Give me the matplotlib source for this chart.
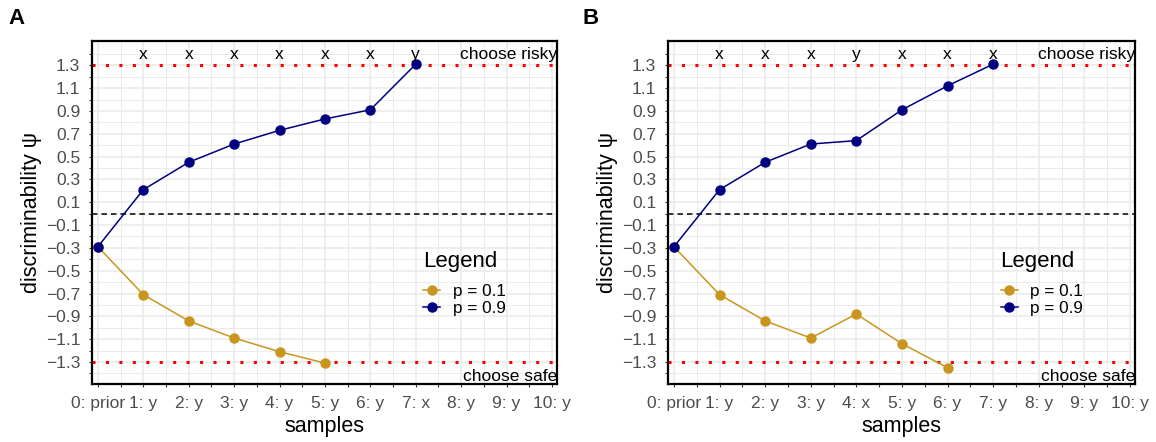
import matplotlib
matplotlib.use("Agg")
import matplotlib.pyplot as plt
import numpy as np
from matplotlib.ticker import FixedLocator

plt.rcParams['font.family'] = ['Liberation Sans', 'DejaVu Sans']

# ---- data ----
labels_A = ["0: prior", "1: y", "2: y", "3: y", "4: y", "5: y", "6: y", "7: x", "8: y", "9: y", "10: y"]
labels_B = ["0: prior", "1: y", "2: y", "3: y", "4: x", "5: y", "6: y", "7: y", "8: y", "9: y", "10: y"]
top_A = ["x", "x", "x", "x", "x", "x", "y"]
top_B = ["x", "x", "x", "y", "x", "x", "x"]

p09_A = [-0.29, 0.21, 0.45, 0.61, 0.73, 0.83, 0.91, 1.31]
p01_A = [-0.29, -0.71, -0.94, -1.09, -1.21, -1.31]
p09_B = [-0.29, 0.21, 0.45, 0.61, 0.64, 0.91, 1.12, 1.31]
p01_B = [-0.29, -0.71, -0.94, -1.09, -0.88, -1.14, -1.35]

threshold_hi = 1.3
threshold_lo = -1.3

navy = "#000080"
gold = "#C8961E"

fig = plt.figure(figsize=(11.56, 4.42), dpi=100)

def panel(rect, xlabels, top, p01, p09, letter, letter_x):
    ax = fig.add_axes(rect)
    ax.set_xlim(-0.13, 10.11)
    ax.set_ylim(-1.493, 1.513)
    ax.xaxis.set_major_locator(FixedLocator(np.arange(0, 11)))
    ax.xaxis.set_minor_locator(FixedLocator(np.arange(0.5, 10.5, 1.0)))
    yt = np.round(np.arange(-1.3, 1.31, 0.2), 1)
    ax.yaxis.set_major_locator(FixedLocator(yt))
    ax.yaxis.set_minor_locator(FixedLocator(np.round(np.arange(-1.4, 1.41, 0.2), 1)))
    ax.set_xticklabels(xlabels)
    ax.set_yticklabels([f"{v:.1f}".replace("-", "\u2212") for v in yt])
    ax.grid(which='major', color='#EBEBEB', lw=1.2)
    ax.grid(which='minor', color='#EBEBEB', lw=0.7)
    ax.set_axisbelow(True)
    ax.tick_params(which='both', length=2.5, width=0.8, color='#333333',
                   labelsize=12.5, labelcolor='#4D4D4D', pad=6)
    for s in ax.spines.values():
        s.set_color('black')
        s.set_linewidth(1.6)

    ax.axhline(threshold_hi, color='red', lw=2.2, dashes=(1, 3.4), dash_capstyle='butt')
    ax.axhline(threshold_lo, color='red', lw=2.2, dashes=(1, 3.4), dash_capstyle='butt')
    ax.axhline(0, color='black', lw=1.1, dashes=(3.6, 2.6))

    ax.plot(range(len(p01)), p01, color=gold, lw=1.1, marker='o', ms=6.5, label='p = 0.1')
    ax.plot(range(len(p09)), p09, color=navy, lw=1.1, marker='o', ms=6.5, label='p = 0.9')

    for i, t in enumerate(top):
        ax.text(i + 1, 1.353, t, ha='center', va='baseline', fontsize=12.5, color='black')
    ax.text(10.11, 1.353, "choose risky", ha='right', va='baseline', fontsize=12.5, color='black')
    ax.text(10.11, -1.464, "choose safe", ha='right', va='baseline', fontsize=12.5, color='black')

    ax.set_xlabel("samples", fontsize=15.5, labelpad=4)
    ax.set_ylabel("discriminability \u03c8", fontsize=15.5, labelpad=3)

    leg = ax.legend(title="Legend", loc='upper left', bbox_to_anchor=(0.712, 0.388),
                    frameon=False, fontsize=12.3, title_fontsize=16, handlelength=1.0,
                    handletextpad=0.75, labelspacing=0.12, alignment='left',
                    borderpad=0, borderaxespad=0)
    leg._legend_box.sep = 9
    fig.text(letter_x, 1 - 18 / 442, letter, fontsize=16, fontweight='bold', ha='left', va='center')
    return ax

panel([92 / 1156, (442 - 384) / 442, 465 / 1156, 343 / 442], labels_A, top_A, p01_A, p09_A, "A", 8 / 1156)
panel([668 / 1156, (442 - 384) / 442, 467 / 1156, 343 / 442], labels_B, top_B, p01_B, p09_B, "B", 583 / 1156)

fig.savefig("out.png", dpi=100)
